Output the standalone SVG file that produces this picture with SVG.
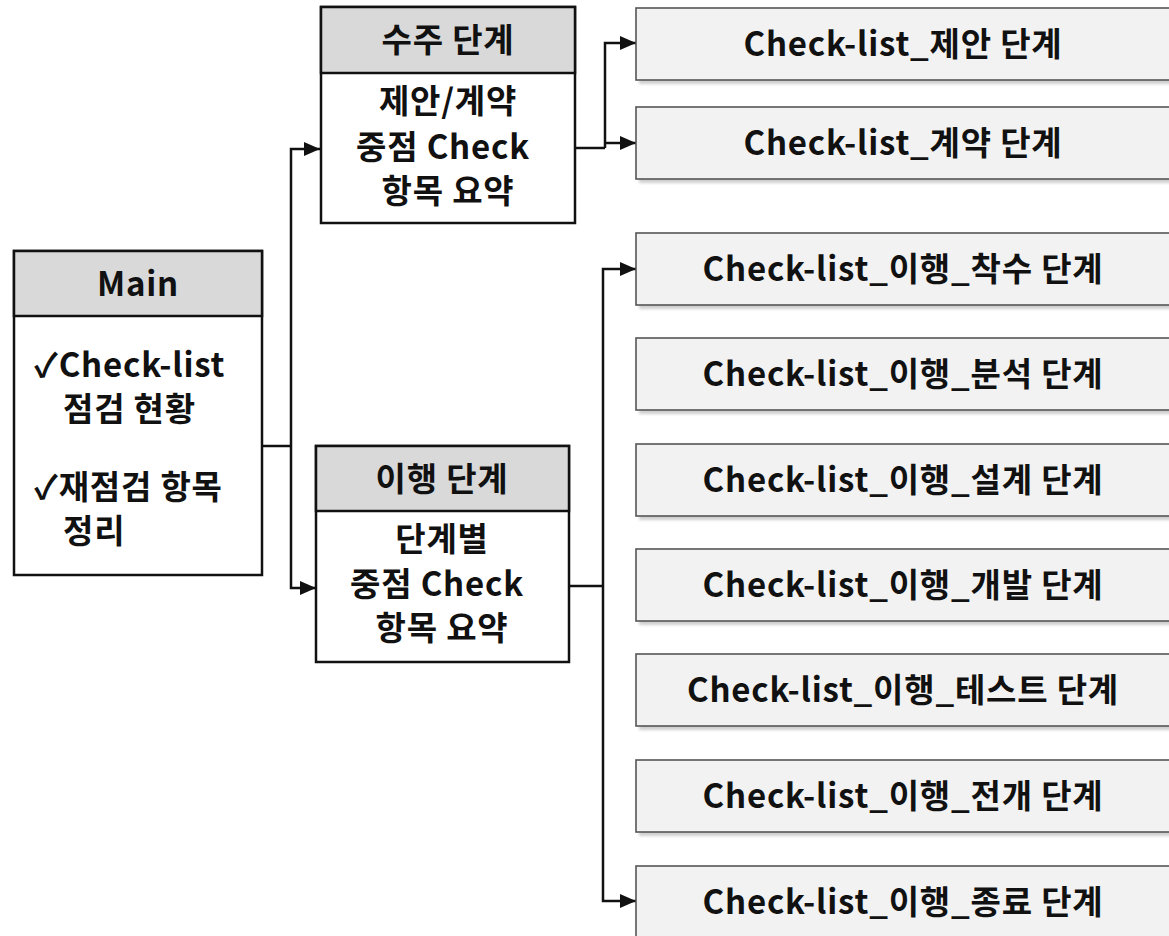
<svg xmlns="http://www.w3.org/2000/svg" width="1169" height="936" viewBox="0 0 1169 936">
  <style>
    .txt { font-family: "Noto Sans CJK KR", "Liberation Sans", sans-serif; font-weight: bold; font-size: 33px; letter-spacing: 0.8px; fill: #111; }
    .hdr { fill: #d9d9d9; stroke: #111; stroke-width: 2.5; }
    .body { fill: #ffffff; stroke: #111; stroke-width: 2.5; }
    .item { fill: #f2f2f2; stroke: #555; stroke-width: 1.6; }
    .shadow { fill: #cfcfcf; filter: url(#soft); }
    .wire { fill: none; stroke: #111; stroke-width: 2.5; }
    .c { text-anchor: middle; }
  </style>
  <defs>
    <filter id="soft" x="-5%" y="-20%" width="110%" height="140%">
      <feGaussianBlur stdDeviation="1.5"/>
    </filter>
    <marker id="arrow" markerUnits="userSpaceOnUse" markerWidth="16" markerHeight="14" refX="16" refY="7" orient="auto">
      <path d="M0,0 L16,7 L0,14 z" fill="#111"/>
    </marker>
  </defs>

  <rect width="1169" height="936" fill="#ffffff"/>

  <!-- connectors -->
  <g id="connectors">
    <!-- Main to 수주 / 이행 -->
    <path class="wire" d="M262,446 H291"/>
    <path class="wire" d="M291,446 V149 H320" marker-end="url(#arrow)"/>
    <path class="wire" d="M291,446 V588 H316" marker-end="url(#arrow)"/>
    <!-- 수주 to its checklists -->
    <path class="wire" d="M575,148 H605"/>
    <path class="wire" d="M605,148 V43 H636" marker-end="url(#arrow)"/>
    <path class="wire" d="M605,143 H636" marker-end="url(#arrow)"/>
    <!-- 이행 to its checklists -->
    <path class="wire" d="M569,586 H603"/>
    <path class="wire" d="M603,586 V269 H636" marker-end="url(#arrow)"/>
    <path class="wire" d="M603,586 V901 H636" marker-end="url(#arrow)"/>
  </g>

  <!-- Main -->
  <g id="main">
    <rect class="body" x="14" y="251" width="248" height="324"/>
    <rect class="hdr" x="14" y="251" width="248" height="65"/>
    <text class="txt c" x="138" y="296">Main</text>
    <text class="txt" x="34" y="377">✓Check-list</text>
    <text class="txt" x="63" y="421">점검 현황</text>
    <text class="txt" x="34" y="499">✓재점검 항목</text>
    <text class="txt" x="63" y="543">정리</text>
  </g>

  <!-- 수주 단계 -->
  <g id="suju">
    <rect class="body" x="321" y="7" width="254" height="216"/>
    <rect class="hdr" x="321" y="7" width="254" height="66"/>
    <text class="txt c" x="448" y="52">수주 단계</text>
    <text class="txt c" x="448" y="113">제안/계약</text>
    <text class="txt c" x="443" y="159">중점 Check</text>
    <text class="txt c" x="448" y="203">항목 요약</text>
  </g>

  <!-- 이행 단계 -->
  <g id="ihaeng">
    <rect class="body" x="316" y="446" width="253" height="216"/>
    <rect class="hdr" x="316" y="446" width="253" height="65"/>
    <text class="txt c" x="442" y="491">이행 단계</text>
    <text class="txt c" x="442" y="551">단계별</text>
    <text class="txt c" x="437" y="596">중점 Check</text>
    <text class="txt c" x="442" y="640">항목 요약</text>
  </g>

  <!-- checklist items -->
  <g id="cl-proposal">
    <rect class="shadow" x="639" y="12" width="540" height="72"/>
    <rect class="item" x="636" y="8" width="540" height="72"/>
    <text class="txt c" x="903" y="56">Check-list_제안 단계</text>
  </g>
  <g id="cl-contract">
    <rect class="shadow" x="639" y="111" width="540" height="72"/>
    <rect class="item" x="636" y="107" width="540" height="72"/>
    <text class="txt c" x="903" y="155">Check-list_계약 단계</text>
  </g>
  <g id="cl-start">
    <rect class="shadow" x="639" y="237" width="540" height="72"/>
    <rect class="item" x="636" y="233" width="540" height="72"/>
    <text class="txt c" x="903" y="281">Check-list_이행_착수 단계</text>
  </g>
  <g id="cl-analysis">
    <rect class="shadow" x="639" y="342" width="540" height="72"/>
    <rect class="item" x="636" y="338" width="540" height="72"/>
    <text class="txt c" x="903" y="386">Check-list_이행_분석 단계</text>
  </g>
  <g id="cl-design">
    <rect class="shadow" x="639" y="448" width="540" height="72"/>
    <rect class="item" x="636" y="444" width="540" height="72"/>
    <text class="txt c" x="903" y="492">Check-list_이행_설계 단계</text>
  </g>
  <g id="cl-dev">
    <rect class="shadow" x="639" y="553" width="540" height="72"/>
    <rect class="item" x="636" y="549" width="540" height="72"/>
    <text class="txt c" x="903" y="597">Check-list_이행_개발 단계</text>
  </g>
  <g id="cl-test">
    <rect class="shadow" x="639" y="658" width="540" height="72"/>
    <rect class="item" x="636" y="654" width="540" height="72"/>
    <text class="txt c" x="903" y="702">Check-list_이행_테스트 단계</text>
  </g>
  <g id="cl-deploy">
    <rect class="shadow" x="639" y="764" width="540" height="72"/>
    <rect class="item" x="636" y="760" width="540" height="72"/>
    <text class="txt c" x="903" y="808">Check-list_이행_전개 단계</text>
  </g>
  <g id="cl-close">
    <rect class="shadow" x="639" y="870" width="540" height="72"/>
    <rect class="item" x="636" y="866" width="540" height="72"/>
    <text class="txt c" x="903" y="914">Check-list_이행_종료 단계</text>
  </g>
</svg>
